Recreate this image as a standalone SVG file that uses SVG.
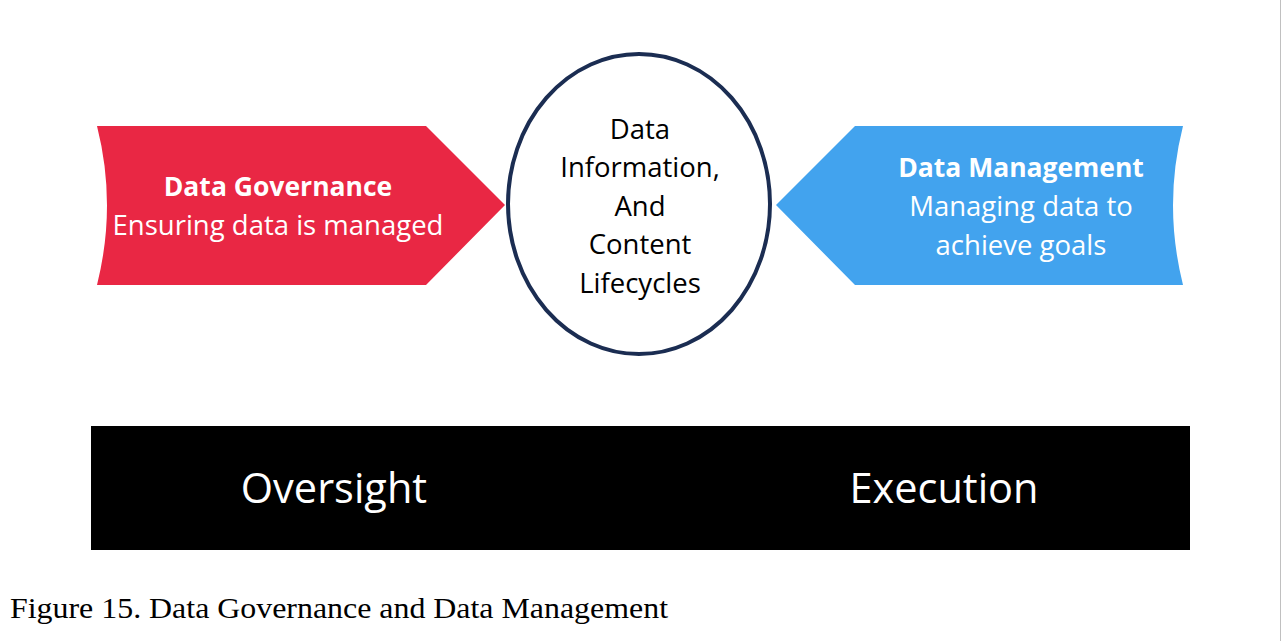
<svg xmlns="http://www.w3.org/2000/svg" width="1281" height="641" viewBox="0 0 1281 641">
<style>
.t{font-family:"Open Sans","Liberation Sans",sans-serif;text-anchor:middle}
.w{fill:#ffffff}
.b{font-weight:bold;font-size:26.5px}
.r{font-size:27.5px}
</style>
<rect width="1281" height="641" fill="#ffffff"/>
<line x1="1280.5" y1="0" x2="1280.5" y2="641" stroke="#c0c0c0" stroke-width="1"/>
<g id="governance">
<path d="M97,126 L426,126 L505,205 L426,285 L97,285 Q117,205 97,126 Z" fill="#E92744"/>
<text class="t w b" x="278" y="196">Data Governance</text>
<text class="t w r" x="278" y="235">Ensuring data is managed</text>
</g>
<g id="management">
<path d="M1183,126 L855,126 L776,205 L855,285 L1183,285 Q1163,205 1183,126 Z" fill="#42A3EE"/>
<text class="t w b" x="1021" y="177">Data Management</text>
<text class="t w r" x="1021" y="216">Managing data to</text>
<text class="t w r" x="1021" y="255">achieve goals</text>
</g>
<g id="lifecycles">
<ellipse cx="639" cy="204" rx="131" ry="150" fill="#ffffff" stroke="#1B2D52" stroke-width="4"/>
<text class="t r" x="640" y="139" fill="#000">Data</text>
<text class="t r" x="640" y="177" fill="#000">Information,</text>
<text class="t r" x="640" y="216" fill="#000">And</text>
<text class="t r" x="640" y="254" fill="#000">Content</text>
<text class="t r" x="640" y="293" fill="#000">Lifecycles</text>
</g>
<g id="bar">
<rect x="91" y="426" width="1099" height="124" fill="#000000"/>
<text class="t w" x="334" y="503" font-size="41.5">Oversight</text>
<text class="t w" x="944" y="503" font-size="41.5">Execution</text>
</g>
<g id="connectors"></g>
<text x="10" y="618" font-family="'Liberation Serif','Times New Roman',serif" font-size="30" fill="#000" textLength="658" lengthAdjust="spacingAndGlyphs">Figure 15. Data Governance and Data Management</text>
</svg>
